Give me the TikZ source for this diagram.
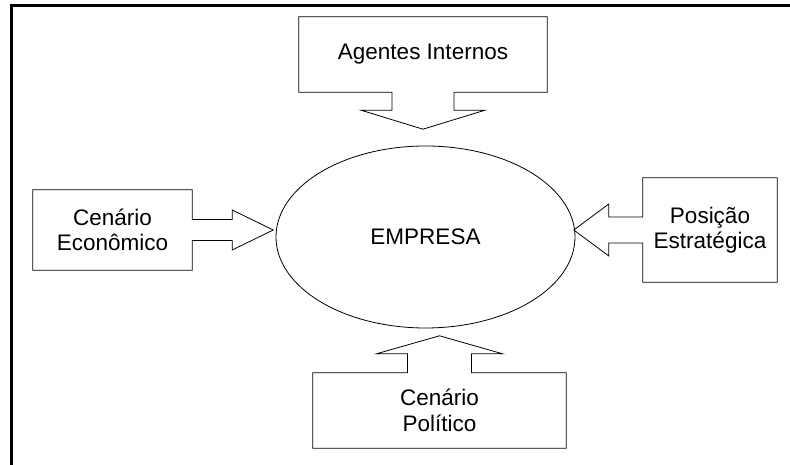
\documentclass[tikz,border=0pt]{standalone}
\usepackage{fontspec}
\setmainfont{Liberation Sans}
\usetikzlibrary{shapes.geometric}
\tikzset{
    rotulo/.style={align=center,inner sep=0pt,font=\fontsize{22.5}{25.5}\selectfont},
    contorno/.style={line width=0.8pt,line join=miter}
}
\begin{document}
\begin{tikzpicture}[x=1pt,y=1pt]
    \useasboundingbox (0,0) rectangle (790,465);
    \draw[line width=2.5pt] (790,459.5) -- (11.5,459.5) -- (11.5,0);
    \node[rotulo,ellipse,draw,contorno,minimum width=299pt,minimum height=182pt] (empresa) at (425.5,228) {EMPRESA};
    \node[rotulo,minimum width=248pt,minimum height=75pt] (agentes) at (423,410.5) {Agentes Internos};
    \node[rotulo,minimum width=159pt,minimum height=80pt] (economico) at (112.5,235) {Cen\'ario\\Econ\^omico};
    \node[rotulo,minimum width=134pt,minimum height=104pt] (posicao) at (710,235) {Posi\c{c}\~ao\\Estrat\'egica};
    \node[rotulo,minimum width=253pt,minimum height=75pt] (politico) at (439.5,54.5) {Cen\'ario\\Pol\'itico};
    % caixas com seta
    \draw[contorno] (agentes.north west) -- (agentes.north east) -- (agentes.south east)
        -- ([xshift=31pt]agentes.south) -- ++(0,-18) -- ++(31,0) -- ([yshift=-37pt]agentes.south)
        -- ++(-62,19) -- ++(31,0) -- ++(0,18) -- (agentes.south west) -- cycle;
    \draw[contorno] (economico.south west) -- (economico.north west) -- (economico.north east)
        -- ([yshift=10.5pt]economico.east) -- ++(40,0) -- ++(0,9.5) -- ([xshift=81pt]economico.east)
        -- ++(-41,-20) -- ++(0,9.5) -- ([yshift=-10.5pt]economico.east) -- (economico.south east) -- cycle;
    \draw[contorno] (posicao.south east) -- (posicao.north east) -- (posicao.north west)
        -- ([yshift=13pt]posicao.west) -- ++(-34,0) -- ++(0,13) -- ([xshift=-69pt]posicao.west)
        -- ++(35,-26) -- ++(0,13) -- ([yshift=-13pt]posicao.west) -- (posicao.south west) -- cycle;
    \draw[contorno] (politico.south west) -- (politico.north west) -- ([xshift=-32pt]politico.north)
        -- ++(0,19) -- ++(-31,0) -- ([yshift=37pt]politico.north) -- ++(63,-18) -- ++(-31,0)
        -- ([xshift=32pt]politico.north) -- (politico.north east) -- (politico.south east) -- cycle;
\end{tikzpicture}
\end{document}
